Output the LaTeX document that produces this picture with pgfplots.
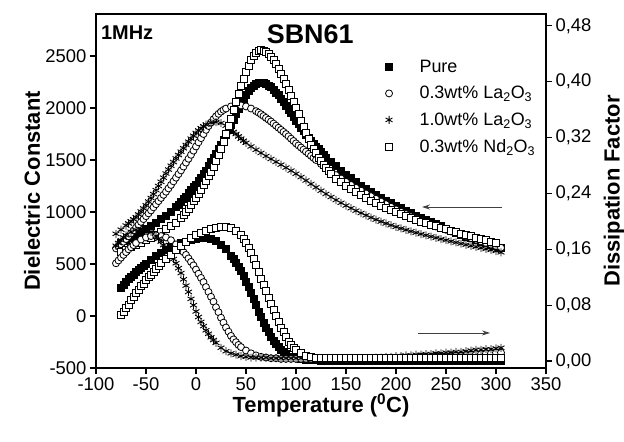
\documentclass[border=0pt]{standalone}
\usepackage{fontspec}
\setmainfont{Liberation Sans}
\usepackage{pgfplots}
\pgfplotsset{compat=1.18}
\usetikzlibrary{arrows.meta}
\begin{document}
\begin{tikzpicture}
\path[use as bounding box] (-96bp,-74bp) rectangle (528bp,368bp);
\begin{axis}[
  at={(0,0)}, anchor=south west,
  scale only axis, width=450bp, height=354bp,
  xmin=-100, xmax=350, ymin=-500, ymax=2904,
  xtick={-100,-50,...,350}, ytick={-500,0,...,2500},
  xtick pos=bottom, ytick pos=left, tick align=outside,
  major tick length=6bp,
  axis line style={line width=1.2bp},
  every tick/.style={line width=1.1bp, black},
  tick label style={font=\fontsize{18.5}{18.5}\selectfont},
  /pgf/number format/assume math mode=true,
  /pgf/number format/1000 sep={},
  xlabel={Temperature (\textsuperscript{0}C)},
  ylabel={Dielectric Constant},
  label style={font=\fontsize{22}{22}\selectfont\bfseries},
  xlabel style={at={(axis description cs:0.5,-0.105)}, anchor=center},
  ylabel style={at={(axis description cs:-0.142,0.5)}, anchor=center},
  only marks, mark size=3.5bp,
  legend style={draw=none, fill=none, at={(rel axis cs:0.643,0.876)}, anchor=north west,
    font=\fontsize{18}{18}\selectfont, row sep=8.5bp, column sep=25bp, inner sep=0pt},
  legend cell align=left,
]
\addplot[mark=square*, mark options={draw=black, fill=black, line width=0.8bp}] coordinates {
(-75,700)(-70,725)(-65,750)(-60,775)(-55,805)(-50,835)(-45,865)(-40,895)(-35,930)(-30,965)(-25,1000)(-20,1045)(-17.5,1070)(-15,1095)(-12.5,1122)(-10,1150)(-7.5,1180)(-5,1210)(-2.5,1237)(0,1265)(2.5,1297)(5,1330)(7.5,1365)(10,1400)(12.5,1440)(15,1480)(17.5,1520)(20,1560)(22.5,1605)(25,1650)(27.5,1697)(30,1745)(32.5,1792)(35,1840)(37.5,1890)(40,1940)(42.5,1990)(45,2040)(47.5,2087)(50,2130)(52.5,2165)(55,2195)(57.5,2215)(60,2230)(62.5,2237)(65,2240)(67.5,2237)(70,2230)(72.5,2217)(75,2200)(77.5,2177)(80,2150)(82.5,2122)(85,2090)(87.5,2056)(90,2020)(92.5,1985)(95,1950)(97.5,1915)(100,1880)(102.5,1845)(105,1810)(107.5,1777)(110,1745)(112.5,1715)(115,1685)(117.5,1657)(120,1630)(122.5,1602)(125,1575)(127.5,1550)(130,1525)(135,1480)(140,1440)(145,1400)(150,1360)(155,1325)(160,1290)(165,1255)(170,1225)(175,1195)(180,1165)(185,1135)(190,1110)(195,1085)(200,1060)(205,1035)(210,1010)(215,990)(220,965)(225,945)(230,925)(235,905)(240,885)(245,862)(250,840)(255,820)(260,800)(265,782)(270,765)(275,747)(280,730)(285,715)(290,700)(295,685)(300,670)(305,655)};
\addlegendentry{Pure}
\addplot[mark=*, mark options={draw=black, fill=white, line width=0.8bp}] coordinates {
(-80,650)(-77.5,670)(-75,690)(-72.5,715)(-70,740)(-67.5,767)(-65,795)(-62.5,822)(-60,850)(-57.5,877)(-55,905)(-52.5,932)(-50,960)(-47.5,987)(-45,1015)(-42.5,1045)(-40,1075)(-37.5,1105)(-35,1135)(-32.5,1165)(-30,1195)(-27.5,1227)(-25,1260)(-22.5,1295)(-20,1330)(-17.5,1365)(-15,1400)(-12.5,1437)(-10,1475)(-7.5,1512)(-5,1550)(-2.5,1590)(0,1630)(2.5,1670)(5,1710)(7.5,1750)(10,1790)(12.5,1827)(15,1860)(17.5,1892)(20,1920)(22.5,1944)(25,1965)(27.5,1982)(30,1995)(35,2015)(40,2025)(45,2025)(50,2015)(55,1995)(60,1970)(62.5,1956)(65,1940)(67.5,1923)(70,1905)(72.5,1888)(75,1870)(77.5,1850)(80,1830)(82.5,1810)(85,1790)(87.5,1770)(90,1750)(92.5,1728)(95,1705)(97.5,1683)(100,1660)(102.5,1640)(105,1620)(107.5,1600)(110,1580)(112.5,1560)(115,1540)(117.5,1520)(120,1500)(125,1462)(130,1425)(135,1390)(140,1355)(145,1322)(150,1290)(155,1260)(160,1232)(165,1205)(170,1178)(175,1152)(180,1126)(185,1100)(190,1075)(195,1050)(200,1025)(205,1002)(210,980)(215,958)(220,936)(225,915)(230,896)(235,878)(240,861)(245,845)(250,829)(255,813)(260,797)(265,781)(270,765)(275,749)(280,733)(285,717)(290,701)(295,686)(300,671)(305,656)};
\addlegendentry{0.3wt\% La\textsubscript{2}O\textsubscript{3}}
\addplot[mark=asterisk, mark size=4bp, mark options={draw=black, line width=0.9bp}] coordinates {
(-80,790)(-75,830)(-70,870)(-67.5,890)(-65,910)(-62.5,930)(-60,950)(-57.5,977)(-55,1005)(-52.5,1035)(-50,1065)(-47.5,1100)(-45,1135)(-42.5,1172)(-40,1210)(-37.5,1250)(-35,1290)(-32.5,1330)(-30,1370)(-27.5,1408)(-25,1445)(-22.5,1480)(-20,1515)(-17.5,1548)(-15,1580)(-12.5,1613)(-10,1645)(-7.5,1676)(-5,1705)(-2.5,1733)(0,1760)(2.5,1784)(5,1805)(7.5,1824)(10,1840)(15,1858)(20,1865)(25,1855)(30,1830)(32.5,1812)(35,1790)(37.5,1770)(40,1750)(42.5,1727)(45,1705)(47.5,1685)(50,1665)(55,1630)(60,1598)(65,1568)(70,1538)(75,1510)(80,1482)(85,1455)(90,1427)(95,1398)(100,1368)(105,1336)(110,1303)(115,1270)(120,1237)(125,1205)(130,1174)(135,1144)(140,1115)(145,1088)(150,1062)(155,1037)(160,1013)(165,990)(170,968)(175,947)(180,927)(185,908)(190,890)(195,873)(200,857)(205,842)(210,828)(215,814)(220,801)(225,788)(230,776)(235,764)(240,752)(245,740)(250,729)(255,718)(260,707)(265,696)(270,685)(275,675)(280,665)(285,655)(290,645)(295,635)(300,625)(305,612)};
\addlegendentry{1.0wt\% La\textsubscript{2}O\textsubscript{3}}
\addplot[mark=square*, mark options={draw=black, fill=white, line width=0.8bp}] coordinates {
(-75,620)(-70,640)(-65,660)(-60,680)(-55,705)(-50,730)(-45,755)(-40,780)(-35,805)(-30,835)(-25,865)(-20,900)(-15,945)(-12.5,971)(-10,1000)(-7.5,1031)(-5,1065)(-2.5,1102)(0,1140)(2.5,1177)(5,1215)(7.5,1256)(10,1300)(12.5,1344)(15,1390)(17.5,1438)(20,1490)(22.5,1547)(25,1610)(27.5,1678)(30,1750)(32.5,1824)(35,1900)(37.5,1980)(40,2060)(42.5,2136)(45,2210)(47.5,2282)(50,2350)(52.5,2408)(55,2460)(57.5,2500)(60,2530)(62.5,2547)(65,2555)(67.5,2551)(70,2540)(72.5,2518)(75,2490)(77.5,2458)(80,2420)(82.5,2377)(85,2330)(87.5,2282)(90,2230)(92.5,2176)(95,2120)(97.5,2061)(100,2000)(102.5,1940)(105,1880)(107.5,1820)(110,1760)(112.5,1703)(115,1650)(117.5,1605)(120,1565)(122.5,1525)(125,1490)(127.5,1456)(130,1425)(132.5,1396)(135,1370)(140,1320)(145,1285)(150,1252)(155,1220)(160,1190)(165,1162)(170,1135)(175,1110)(180,1086)(185,1063)(190,1041)(195,1020)(200,1000)(205,980)(210,961)(215,943)(220,926)(225,909)(230,893)(235,877)(240,862)(245,847)(250,833)(255,819)(260,805)(265,792)(270,779)(275,766)(280,754)(285,741)(290,729)(295,717)(300,700)};
\addlegendentry{0.3wt\% Nd\textsubscript{2}O\textsubscript{3}}
\draw[-{Stealth[length=8bp,width=5bp]}, line width=0.9bp, black!75] (axis cs:306,1048) -- (axis cs:226,1048);
\draw[-{Stealth[length=8bp,width=5bp]}, line width=0.9bp, black!75] (axis cs:222,-163) -- (axis cs:294,-163);
\node[font=\fontsize{27}{27}\selectfont\bfseries, anchor=center] at (rel axis cs:0.476,0.944) {SBN61};
\node[font=\fontsize{20}{20}\selectfont\bfseries, anchor=west, inner sep=0pt] at (rel axis cs:0.011,0.946) {1MHz};
\end{axis}
\begin{axis}[
  at={(0,0)}, anchor=south west,
  scale only axis, width=450bp, height=354bp,
  xmin=-100, xmax=350, ymin=-0.010, ymax=0.497,
  axis x line=none, axis y line*=right,
  ytick={0,0.08,0.16,0.24,0.32,0.40,0.48}, ytick pos=right, tick align=outside,
  major tick length=6bp,
  axis line style={-, line width=1.2bp},
  every tick/.style={line width=1.1bp, black},
  tick label style={font=\fontsize{18.5}{18.5}\selectfont},
  /pgf/number format/assume math mode=true,
  yticklabel style={/pgf/number format/.cd, fixed, fixed zerofill, precision=2, use comma},
  ylabel={Dissipation Factor},
  label style={font=\fontsize{22}{22}\selectfont\bfseries},
  ylabel style={at={(axis description cs:1.151,0.5)}, anchor=center},
  only marks, mark size=3.5bp,
]
\addplot[mark=square*, mark options={draw=black, fill=black, line width=0.8bp}] coordinates {
(-75,0.105)(-72.5,0.109)(-70,0.113)(-67.5,0.117)(-65,0.120)(-62.5,0.124)(-60,0.127)(-57.5,0.130)(-55,0.133)(-52.5,0.136)(-50,0.139)(-45,0.145)(-40,0.150)(-35,0.155)(-30,0.159)(-25,0.163)(-20,0.166)(-15,0.169)(-10,0.171)(-5,0.173)(0,0.175)(5,0.176)(10,0.176)(15,0.175)(20,0.172)(25,0.167)(30,0.160)(35,0.151)(37.5,0.146)(40,0.141)(42.5,0.135)(45,0.129)(47.5,0.122)(50,0.114)(52.5,0.106)(55,0.098)(57.5,0.089)(60,0.080)(62.5,0.071)(65,0.063)(67.5,0.055)(70,0.048)(72.5,0.041)(75,0.035)(77.5,0.029)(80,0.024)(82.5,0.020)(85,0.016)(87.5,0.013)(90,0.010)(95,0.006)(100,0.004)(105,0.003)(110,0.002)(115,0.001)(120,0.001)(125,0.000)(130,0.000)(135,0.000)(140,0.000)(145,0.000)(150,0.000)(155,0.000)(160,0.000)(165,0.000)(170,0.000)(175,0.000)(180,0.000)(185,0.000)(190,0.000)(195,0.000)(200,0.000)(205,0.000)(210,0.000)(215,0.000)(220,0.000)(225,0.000)(230,0.000)(235,0.000)(240,0.000)(245,0.000)(250,0.000)(255,0.000)(260,0.000)(265,0.000)(270,0.000)(275,0.000)(280,0.000)(285,0.000)(290,0.000)(295,0.000)(300,0.000)(305,0.000)};
\addplot[mark=*, mark options={draw=black, fill=white, line width=0.8bp}] coordinates {
(-80,0.140)(-77.5,0.144)(-75,0.148)(-72.5,0.152)(-70,0.156)(-67.5,0.160)(-65,0.163)(-62.5,0.166)(-60,0.169)(-55,0.174)(-50,0.177)(-45,0.179)(-40,0.180)(-35,0.179)(-30,0.177)(-25,0.173)(-20,0.167)(-15,0.160)(-12.5,0.156)(-10,0.152)(-7.5,0.147)(-5,0.142)(-2.5,0.137)(0,0.131)(2.5,0.125)(5,0.119)(7.5,0.113)(10,0.106)(12.5,0.099)(15,0.092)(17.5,0.085)(20,0.077)(22.5,0.070)(25,0.062)(27.5,0.055)(30,0.048)(32.5,0.042)(35,0.036)(37.5,0.031)(40,0.027)(42.5,0.023)(45,0.020)(50,0.015)(55,0.011)(60,0.008)(65,0.006)(70,0.005)(75,0.004)(80,0.004)(85,0.003)(90,0.003)(95,0.003)(100,0.003)(105,0.003)(110,0.003)(115,0.003)(120,0.003)(125,0.003)(130,0.003)(135,0.003)(140,0.003)(145,0.003)(150,0.003)(155,0.003)(160,0.003)(165,0.003)(170,0.003)(175,0.003)(180,0.004)(185,0.004)(190,0.004)(195,0.004)(200,0.004)(205,0.005)(210,0.005)(215,0.005)(220,0.005)(225,0.006)(230,0.006)(235,0.006)(240,0.007)(245,0.007)(250,0.007)(255,0.008)(260,0.008)(265,0.008)(270,0.009)(275,0.009)(280,0.010)(285,0.010)(290,0.011)(295,0.011)(300,0.012)(305,0.012)};
\addplot[mark=asterisk, mark size=4bp, mark options={draw=black, line width=0.9bp}] coordinates {
(-80,0.165)(-77.5,0.169)(-75,0.173)(-72.5,0.177)(-70,0.180)(-65,0.185)(-60,0.188)(-55,0.189)(-50,0.188)(-45,0.185)(-40,0.179)(-37.5,0.175)(-35,0.171)(-32.5,0.166)(-30,0.161)(-27.5,0.156)(-25,0.151)(-22.5,0.146)(-20,0.140)(-17.5,0.133)(-15,0.126)(-12.5,0.117)(-10,0.108)(-7.5,0.099)(-5,0.089)(-2.5,0.080)(0,0.071)(2.5,0.063)(5,0.056)(7.5,0.050)(10,0.044)(12.5,0.039)(15,0.034)(17.5,0.030)(20,0.026)(25,0.019)(30,0.014)(35,0.011)(40,0.009)(45,0.007)(50,0.006)(55,0.005)(60,0.005)(65,0.005)(70,0.005)(75,0.004)(80,0.004)(85,0.004)(90,0.004)(95,0.004)(100,0.004)(105,0.004)(110,0.004)(115,0.004)(120,0.004)(125,0.004)(130,0.004)(135,0.004)(140,0.004)(145,0.004)(150,0.004)(155,0.004)(160,0.004)(165,0.004)(170,0.004)(175,0.004)(180,0.005)(185,0.005)(190,0.006)(195,0.006)(200,0.007)(205,0.007)(210,0.008)(215,0.008)(220,0.009)(225,0.009)(230,0.010)(235,0.010)(240,0.011)(245,0.011)(250,0.012)(255,0.012)(260,0.013)(265,0.013)(270,0.014)(275,0.015)(280,0.016)(285,0.016)(290,0.017)(295,0.017)(300,0.018)(305,0.019)};
\addplot[mark=square*, mark options={draw=black, fill=white, line width=0.8bp}] coordinates {
(-75,0.066)(-72.5,0.071)(-70,0.076)(-67.5,0.081)(-65,0.087)(-62.5,0.092)(-60,0.097)(-57.5,0.102)(-55,0.107)(-52.5,0.111)(-50,0.116)(-47.5,0.120)(-45,0.124)(-42.5,0.128)(-40,0.132)(-37.5,0.136)(-35,0.140)(-30,0.146)(-25,0.152)(-20,0.159)(-15,0.165)(-10,0.171)(-5,0.176)(0,0.180)(5,0.184)(10,0.187)(15,0.189)(20,0.191)(25,0.192)(30,0.192)(35,0.191)(40,0.187)(45,0.180)(47.5,0.175)(50,0.169)(52.5,0.162)(55,0.155)(57.5,0.146)(60,0.137)(62.5,0.128)(65,0.118)(67.5,0.109)(70,0.100)(72.5,0.091)(75,0.082)(77.5,0.073)(80,0.064)(82.5,0.056)(85,0.048)(87.5,0.041)(90,0.034)(92.5,0.028)(95,0.023)(97.5,0.019)(100,0.016)(105,0.011)(110,0.008)(115,0.006)(120,0.005)(125,0.004)(130,0.004)(135,0.004)(140,0.004)(145,0.004)(150,0.004)(155,0.004)(160,0.004)(165,0.004)(170,0.004)(175,0.004)(180,0.004)(185,0.004)(190,0.004)(195,0.004)(200,0.004)(205,0.004)(210,0.004)(215,0.004)(220,0.004)(225,0.004)(230,0.004)(235,0.004)(240,0.004)(245,0.004)(250,0.004)(255,0.004)(260,0.004)(265,0.004)(270,0.004)(275,0.004)(280,0.004)(285,0.004)(290,0.005)(295,0.005)(300,0.005)(305,0.005)};
\end{axis}
\end{tikzpicture}
\end{document}
